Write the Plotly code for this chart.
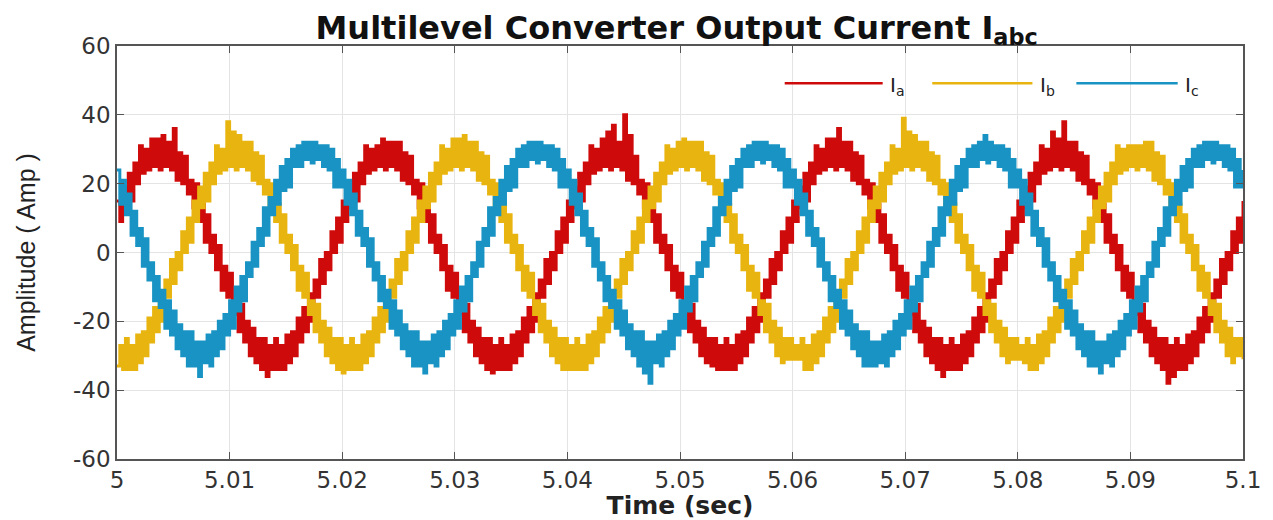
import plotly.graph_objects as go

# ---------------- data ----------------
time_start = 5.0
time_step = 0.00025  # s between samples

ia = [
    15, 9, 19, 13, 23, 15, 26, 20, 31, 23,
    30, 24, 33, 25, 33, 24, 34, 25, 32, 24,
    36, 21, 29, 20, 28, 17, 21, 13, 20, 9,
    14, 3, 11, 0, 5, -5, 2, -11, -4, -13,
    -6, -18, -14, -23, -15, -26, -20, -30, -22, -32,
    -25, -34, -25, -36, -27, -34, -25, -34, -27, -34,
    -24, -32, -23, -30, -19, -26, -16, -23, -12, -20,
    -8, -13, -2, -9, 0, -5, 6, 0, 10, 3,
    15, 9, 19, 13, 23, 15, 26, 20, 31, 23,
    30, 24, 31, 25, 33, 24, 32, 25, 32, 24,
    32, 21, 29, 20, 28, 17, 21, 13, 20, 9,
    14, 3, 11, 0, 5, -5, 2, -11, -4, -13,
    -6, -18, -14, -23, -15, -26, -20, -30, -22, -32,
    -25, -34, -25, -35, -27, -34, -25, -34, -27, -34,
    -24, -32, -23, -30, -19, -26, -16, -23, -12, -20,
    -8, -13, -2, -9, 0, -5, 6, 0, 10, 3,
    15, 9, 19, 13, 23, 15, 26, 20, 31, 23,
    30, 24, 33, 25, 35, 24, 37, 25, 32, 24,
    40, 21, 34, 20, 28, 17, 21, 13, 20, 9,
    14, 3, 11, 0, 5, -5, 2, -11, -4, -13,
    -6, -18, -14, -23, -15, -26, -20, -30, -22, -32,
    -25, -33, -25, -34, -27, -34, -25, -34, -27, -34,
    -24, -32, -23, -30, -19, -26, -16, -23, -12, -20,
    -8, -13, -2, -9, 0, -5, 6, 0, 10, 3,
    15, 9, 19, 13, 23, 15, 26, 20, 31, 23,
    30, 24, 33, 25, 33, 24, 36, 25, 32, 24,
    32, 21, 29, 20, 28, 17, 21, 13, 20, 9,
    14, 3, 11, 0, 5, -5, 2, -11, -4, -13,
    -6, -18, -14, -23, -15, -26, -20, -30, -22, -32,
    -25, -34, -25, -36, -27, -34, -25, -34, -27, -34,
    -24, -32, -23, -30, -19, -26, -16, -23, -12, -20,
    -8, -13, -2, -9, 0, -5, 6, 0, 10, 3,
    15, 9, 19, 13, 23, 15, 26, 20, 31, 23,
    30, 24, 35, 25, 33, 24, 38, 25, 32, 24,
    32, 21, 29, 20, 28, 17, 21, 13, 20, 9,
    14, 3, 11, 0, 5, -5, 2, -11, -4, -13,
    -6, -18, -14, -23, -15, -26, -20, -30, -22, -32,
    -25, -34, -25, -38, -27, -36, -25, -34, -27, -34,
    -24, -32, -23, -30, -19, -26, -16, -23, -12, -20,
    -8, -13, -2, -9, 0, -5, 6, 0, 10, 3,
    15,
]

ib = [
    -33, -27, -34, -25, -34, -27, -34, -24, -32, -23,
    -30, -19, -26, -16, -23, -12, -20, -8, -13, -2,
    -9, 0, -5, 6, 0, 10, 3, 15, 9, 19,
    13, 23, 15, 26, 20, 31, 23, 30, 24, 38,
    25, 35, 24, 34, 25, 32, 24, 32, 21, 29,
    20, 28, 17, 21, 13, 20, 9, 14, 3, 11,
    0, 5, -5, 2, -11, -4, -13, -6, -18, -14,
    -23, -15, -26, -20, -30, -22, -32, -25, -34, -25,
    -35, -27, -34, -25, -34, -27, -34, -24, -32, -23,
    -30, -19, -26, -16, -23, -12, -20, -8, -13, -2,
    -9, 0, -5, 6, 0, 10, 3, 15, 9, 19,
    13, 23, 15, 26, 20, 31, 23, 30, 24, 33,
    25, 33, 24, 34, 25, 32, 24, 32, 21, 29,
    20, 28, 17, 21, 13, 20, 9, 14, 3, 11,
    0, 5, -5, 2, -11, -4, -13, -6, -18, -14,
    -23, -15, -26, -20, -30, -22, -32, -25, -34, -25,
    -34, -27, -34, -25, -34, -27, -34, -24, -32, -23,
    -30, -19, -26, -16, -23, -12, -20, -8, -13, -2,
    -9, 0, -5, 6, 0, 10, 3, 15, 9, 19,
    13, 23, 15, 26, 20, 31, 23, 30, 24, 32,
    25, 33, 24, 32, 25, 32, 24, 32, 21, 29,
    20, 28, 17, 21, 13, 20, 9, 14, 3, 11,
    0, 5, -5, 2, -11, -4, -13, -6, -18, -14,
    -23, -15, -26, -20, -30, -22, -32, -25, -31, -25,
    -31, -27, -31, -25, -34, -27, -34, -24, -32, -23,
    -30, -19, -26, -16, -23, -12, -20, -8, -13, -2,
    -9, 0, -5, 6, 0, 10, 3, 15, 9, 19,
    13, 23, 15, 26, 20, 31, 23, 30, 24, 39,
    25, 35, 24, 34, 25, 32, 24, 32, 21, 29,
    20, 28, 17, 21, 13, 20, 9, 14, 3, 11,
    0, 5, -5, 2, -11, -4, -13, -6, -18, -14,
    -23, -15, -26, -20, -30, -22, -32, -25, -31, -25,
    -31, -27, -32, -25, -34, -27, -34, -24, -32, -23,
    -30, -19, -26, -16, -23, -12, -20, -8, -13, -2,
    -9, 0, -5, 6, 0, 10, 3, 15, 9, 19,
    13, 23, 15, 26, 20, 31, 23, 30, 24, 31,
    25, 31, 24, 31, 25, 32, 24, 32, 21, 29,
    20, 28, 17, 21, 13, 20, 9, 14, 3, 11,
    0, 5, -5, 2, -11, -4, -13, -6, -18, -14,
    -23, -15, -26, -20, -30, -22, -32, -25, -30, -25,
    -31,
]

ic = [
    24, 14, 21, 11, 17, 5, 12, 2, 7, -4,
    4, -8, -3, -14, -7, -16, -11, -22, -14, -24,
    -17, -28, -21, -30, -23, -33, -23, -33, -26, -36,
    -26, -32, -24, -33, -23, -30, -20, -28, -18, -24,
    -14, -22, -10, -17, -7, -14, -3, -7, 3, -4,
    7, 2, 13, 5, 16, 11, 21, 14, 25, 18,
    27, 19, 30, 25, 31, 25, 32, 27, 32, 26,
    32, 27, 31, 25, 31, 24, 30, 19, 27, 19,
    24, 14, 21, 11, 17, 5, 12, 2, 7, -4,
    4, -8, -3, -14, -7, -16, -11, -22, -14, -24,
    -17, -28, -21, -30, -23, -33, -23, -33, -26, -35,
    -26, -32, -24, -33, -23, -30, -20, -28, -18, -24,
    -14, -22, -10, -17, -7, -14, -3, -7, 3, -4,
    7, 2, 13, 5, 16, 11, 21, 14, 25, 18,
    27, 19, 30, 25, 31, 25, 32, 27, 32, 26,
    32, 27, 31, 25, 31, 24, 30, 19, 27, 19,
    24, 14, 21, 11, 17, 5, 12, 2, 7, -4,
    4, -8, -3, -14, -7, -16, -11, -22, -14, -24,
    -17, -28, -21, -30, -23, -33, -23, -35, -26, -38,
    -26, -32, -24, -33, -23, -30, -20, -28, -18, -24,
    -14, -22, -10, -17, -7, -14, -3, -7, 3, -4,
    7, 2, 13, 5, 16, 11, 21, 14, 25, 18,
    27, 19, 30, 25, 31, 25, 32, 27, 32, 26,
    32, 27, 31, 25, 31, 24, 30, 19, 27, 19,
    24, 14, 21, 11, 17, 5, 12, 2, 7, -4,
    4, -8, -3, -14, -7, -16, -11, -22, -14, -24,
    -17, -28, -21, -30, -23, -33, -23, -33, -26, -33,
    -26, -32, -24, -33, -23, -30, -20, -28, -18, -24,
    -14, -22, -10, -17, -7, -14, -3, -7, 3, -4,
    7, 2, 13, 5, 16, 11, 21, 14, 25, 18,
    27, 19, 30, 25, 31, 25, 32, 27, 34, 26,
    32, 27, 31, 25, 31, 24, 30, 19, 27, 19,
    24, 14, 21, 11, 17, 5, 12, 2, 7, -4,
    4, -8, -3, -14, -7, -16, -11, -22, -14, -24,
    -17, -28, -21, -30, -23, -33, -23, -33, -26, -35,
    -26, -32, -24, -33, -23, -30, -20, -28, -18, -24,
    -14, -22, -10, -17, -7, -14, -3, -7, 3, -4,
    7, 2, 13, 5, 16, 11, 21, 14, 25, 18,
    27, 19, 30, 25, 31, 25, 32, 27, 32, 26,
    32, 27, 31, 25, 31, 24, 30, 19, 27, 19,
    24,
]

series_names = ["I<sub>a</sub>", "I<sub>b</sub>", "I<sub>c</sub>"]
series_colors = ["#CF0A0A", "#E8B40F", "#1893C3"]

x_tick_vals = [5.0, 5.01, 5.02, 5.03, 5.04, 5.05, 5.06, 5.07, 5.08, 5.09, 5.1]
x_tick_text = ["5", "5.01", "5.02", "5.03", "5.04", "5.05", "5.06", "5.07", "5.08", "5.09", "5.1"]
y_tick_vals = [-60, -40, -20, 0, 20, 40, 60]
y_tick_text = ["-60", "-40", "-20", "0", "20", "40", "60"]

time = [round(time_start + i * time_step, 5) for i in range(len(ia))]

# ---------------- figure ----------------
fig = go.Figure()
for vals, name, color in zip([ia, ib, ic], series_names, series_colors):
    fig.add_trace(go.Scatter(
        x=time, y=vals, mode="lines", name=name,
        line=dict(color=color, width=3.0, shape="hv"),
        showlegend=False,
    ))

# custom legend (long line samples, as in the reference)
legend_x = [(0.593, 0.680, 0.685), (0.724, 0.813, 0.818), (0.852, 0.942, 0.947)]
legend_y = 0.91
for (x0, x1, xt), name, color in zip(legend_x, series_names, series_colors):
    fig.add_shape(type="line", xref="paper", yref="paper",
                  x0=x0, x1=x1, y0=legend_y, y1=legend_y,
                  line=dict(color=color, width=2.5))
    fig.add_annotation(xref="paper", yref="paper", x=xt, y=legend_y - 0.006,
                       text=name, showarrow=False, xanchor="left", yanchor="middle",
                       font=dict(family="DejaVu Sans", size=20, color="#222222"))

axis_common = dict(
    showgrid=True, gridcolor="#E4E4E4", gridwidth=1,
    showline=True, linecolor="#555555", linewidth=1.5, mirror="ticks",
    ticks="inside", ticklen=7, tickcolor="#555555", tickwidth=1,
    zeroline=False, automargin=False,
    tickfont=dict(family="DejaVu Sans", size=23, color="#333333"),
)

fig.update_layout(
    width=1273, height=520,
    paper_bgcolor="white", plot_bgcolor="white",
    margin=dict(l=117, r=30, t=46, b=61),
    title=dict(
        text="<b>Multilevel Converter Output Current I<sub>abc</sub></b>",
        font=dict(family="DejaVu Sans", size=32, color="#111111"),
        x=0.497, xref="paper", xanchor="center",
        y=0.947, yref="container", yanchor="middle",
        automargin=False,
    ),
    xaxis=dict(
        range=[5.0, 5.1], tickvals=x_tick_vals, ticktext=x_tick_text,
        title=dict(text="<b>Time (sec)</b>", standoff=13,
                   font=dict(family="DejaVu Sans", size=25, color="#222222")),
        **axis_common,
    ),
    yaxis=dict(
        range=[-60, 60], tickvals=y_tick_vals, ticktext=y_tick_text,
        title=dict(text="Amplitude ( Amp )", standoff=30,
                   font=dict(family="Liberation Sans", size=25, color="#222222")),
        **axis_common,
    ),
)

fig.write_html("out.html", config={"displayModeBar": False},
               post_script="document.body.style.margin='0';")
